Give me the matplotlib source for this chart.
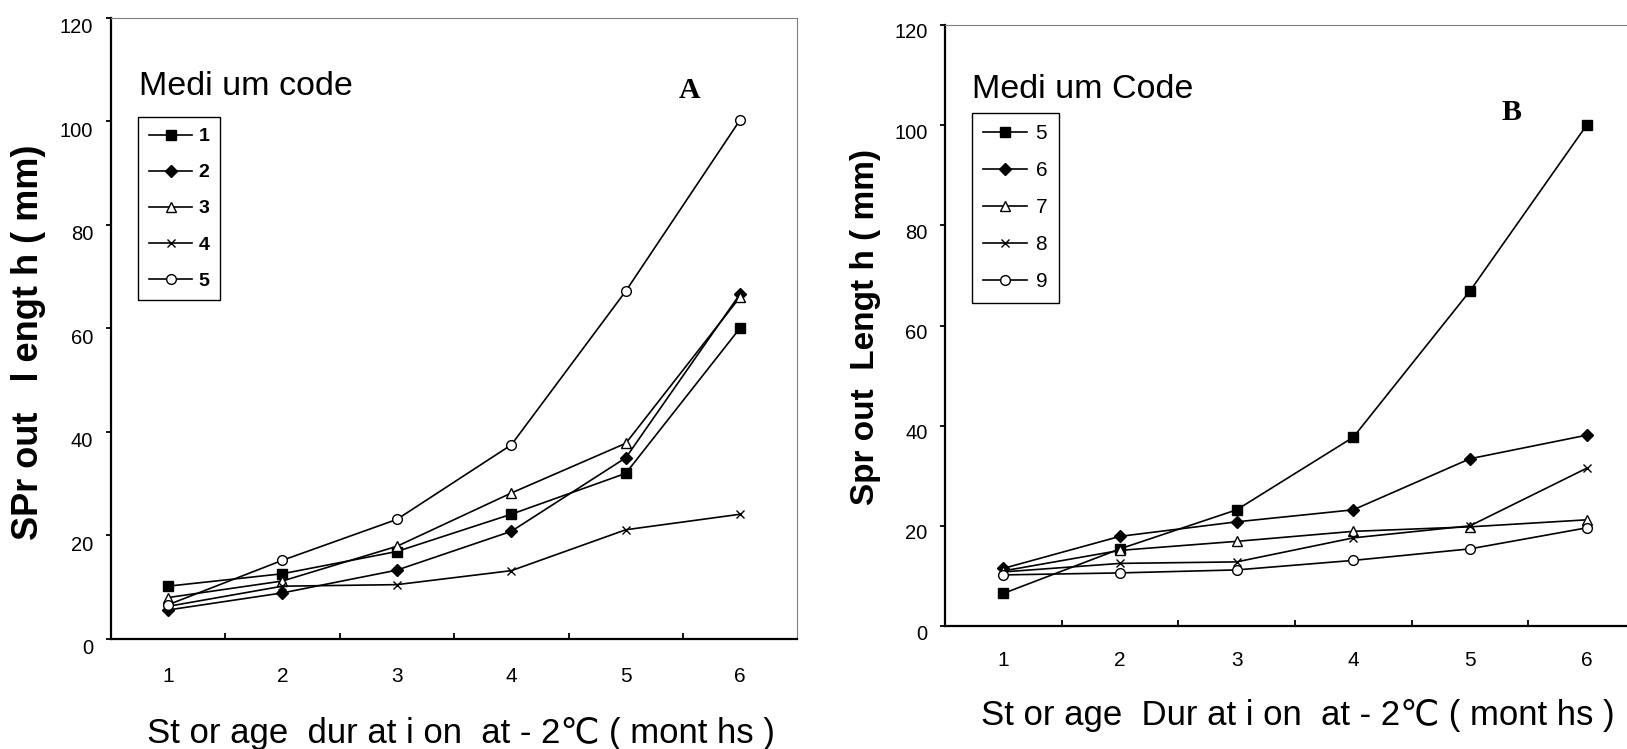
import matplotlib
matplotlib.use('Agg')
import matplotlib.pyplot as plt
from matplotlib.ticker import FixedLocator
from matplotlib.transforms import ScaledTranslation

plt.rcParams['font.family'] = ['Liberation Sans', 'DejaVu Sans']

# storage months (category axis)
months = [1, 2, 3, 4, 5, 6]

# panel A - medium codes 1..5
codes_a = ['1', '2', '3', '4', '5']
a_code1 = [10.2, 12.6, 16.9, 24.1, 32.0, 60.1]
a_code2 = [5.6, 8.9, 13.3, 20.8, 35.0, 66.7]
a_code3 = [8.0, 11.2, 17.9, 28.2, 37.8, 66.1]
a_code4 = [6.3, 10.2, 10.5, 13.2, 21.1, 24.1]
a_code5 = [6.6, 15.2, 23.1, 37.5, 67.2, 100.3]

# panel B - medium codes 5..9
codes_b = ['5', '6', '7', '8', '9']
b_code5 = [6.5, 15.4, 23.2, 37.7, 66.9, 100.0]
b_code6 = [11.5, 17.9, 20.8, 23.2, 33.4, 38.1]
b_code7 = [11.0, 15.1, 16.9, 18.9, 19.8, 21.2]
b_code8 = [10.8, 12.5, 12.8, 17.6, 20.0, 31.5]
b_code9 = [10.2, 10.6, 11.2, 13.1, 15.4, 19.6]

yticks = [0, 20, 40, 60, 80, 100, 120]

W, H = 1627, 749
fig = plt.figure(figsize=(W / 100, H / 100), dpi=100)

# marker styles: filled square, filled diamond, open triangle, x, open circle
styles = [dict(marker='s', ms=7, mfc='black'),
          dict(marker='D', ms=6, mfc='black'),
          dict(marker='^', ms=7.5, mfc='white'),
          dict(marker='x', ms=6, mfc='black'),
          dict(marker='o', ms=7, mfc='white')]


def px(x, y):
    return x / W, 1 - y / H


def draw_panel(ax, series, labels, dy_px, xpad):
    for vals, lab, st in zip(series, labels, styles):
        ax.plot(months, vals, color='black', lw=1.2, mec='black', mew=1.0,
                label=lab, **st)
    ax.set_xlim(0.5, 6.5)
    ax.set_ylim(0, 120)
    ax.set_xticks(months)
    ax.set_yticks(yticks)
    ax.xaxis.set_minor_locator(FixedLocator([1.5, 2.5, 3.5, 4.5, 5.5]))
    ax.tick_params(axis='x', which='major', length=0, pad=xpad, labelsize=15)
    ax.tick_params(axis='x', which='minor', direction='in', length=4.5, width=1.3)
    ax.tick_params(axis='y', direction='out', length=3.6, width=1.3, pad=9,
                   labelsize=14.5)
    for s in ['left', 'bottom']:
        ax.spines[s].set_linewidth(1.6)
    for s in ['top', 'right']:
        ax.spines[s].set_linewidth(0.8)
        ax.spines[s].set_color('#808080')
    off = ScaledTranslation(0, -dy_px / 100, fig.dpi_scale_trans)
    for lab in ax.get_yticklabels():
        lab.set_transform(lab.get_transform() + off)


# ---- panel A
ax1 = fig.add_axes([110.7 / W, 110 / H, 686.8 / W, 621.3 / H])
draw_panel(ax1, [a_code1, a_code2, a_code3, a_code4, a_code5], codes_a, 8, 20)
leg1 = ax1.legend(loc='upper left', bbox_to_anchor=px(138, 117),
                  bbox_transform=fig.transFigure, borderaxespad=0,
                  numpoints=1, handlelength=2.25, handletextpad=0.3,
                  labelspacing=0.95, borderpad=0.55, fancybox=False,
                  edgecolor='black', framealpha=1,
                  prop=dict(size=14, weight='bold'))
leg1.get_frame().set_linewidth(1.0)

# ---- panel B (its right end runs off the image)
ax2 = fig.add_axes([945 / W, 123 / H, 700 / W, 601 / H])
draw_panel(ax2, [b_code5, b_code6, b_code7, b_code8, b_code9], codes_b, 6, 18)
leg2 = ax2.legend(loc='upper left', bbox_to_anchor=px(972, 113),
                  bbox_transform=fig.transFigure, borderaxespad=0,
                  numpoints=1, handlelength=2.1, handletextpad=0.4,
                  labelspacing=0.86, borderpad=0.55, fancybox=False,
                  edgecolor='black', framealpha=1, prop=dict(size=15))
leg2.get_frame().set_linewidth(1.0)

# titles, panel letters, axis labels
fig.text(*px(139, 95), 'Medi um code', fontsize=24.5, ha='left', va='baseline')
fig.text(*px(972, 98), 'Medi um Code', fontsize=24.5, ha='left', va='baseline')
fig.text(*px(690, 91), 'A', fontsize=21.5, fontweight='bold',
         family='Liberation Serif', ha='center', va='center')
fig.text(*px(1512, 112), 'B', fontsize=21.5, fontweight='bold',
         family='Liberation Serif', ha='center', va='center')

fig.text(*px(29, 342), 'SPr out   l engt h ( mm)', rotation=90, fontsize=26,
         fontweight='bold', ha='center', va='center')
fig.text(*px(865, 327), 'Spr out  Lengt h ( mm)', rotation=90, fontsize=24,
         fontweight='bold', ha='center', va='center')

fig.text(*px(147, 742.7), 'St or age  dur at i on  at - 2\u2103 ( mont hs )',
         fontsize=25, ha='left', va='baseline')
fig.text(*px(980.7, 725), 'St or age  Dur at i on  at - 2\u2103 ( mont hs )',
         fontsize=25, ha='left', va='baseline')

fig.savefig('out.png', dpi=100)
